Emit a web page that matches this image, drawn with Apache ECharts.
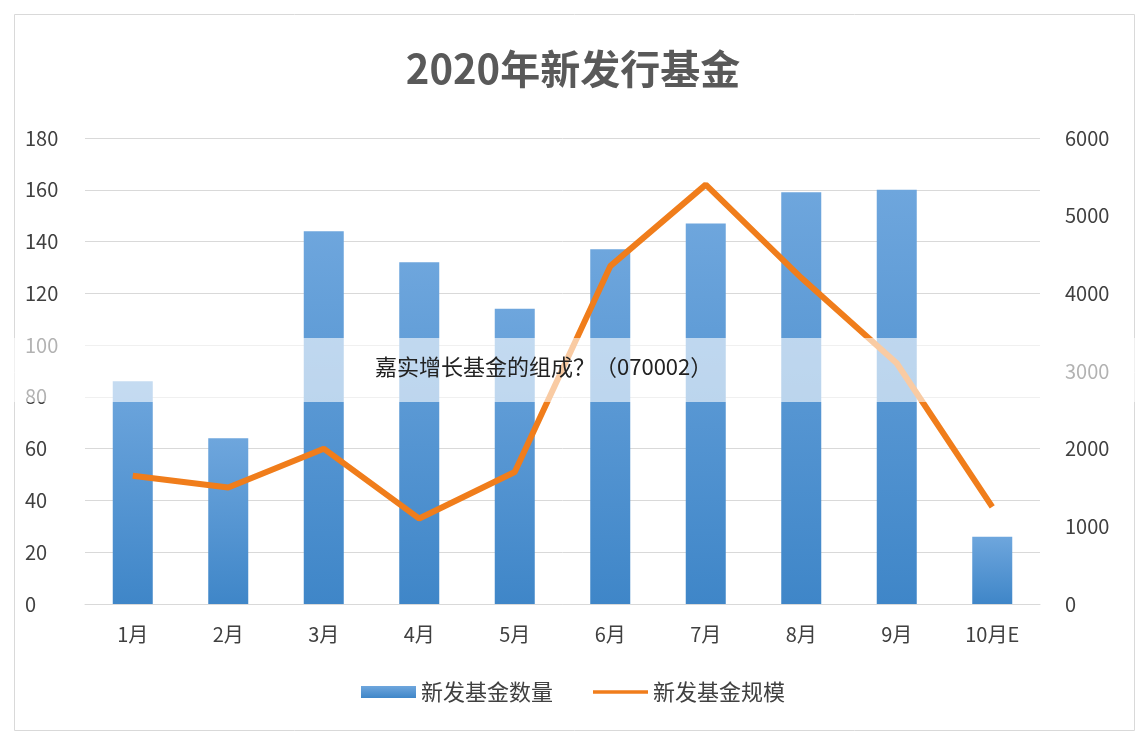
<!DOCTYPE html>
<html><head><meta charset="utf-8">
<script src="https://cdn.jsdelivr.net/npm/echarts@6/dist/echarts.min.js"></script>
<style>html,body{margin:0;background:#fff}#main{width:1146px;height:740px}</style>
</head><body><div id="main"></div>
<script>
var months = ['1月','2月','3月','4月','5月','6月','7月','8月','9月','10月E'];
var fundCount = [86, 64, 144, 132, 114, 137, 147, 159, 160, 26];
var fundScale = [1650, 1500, 2000, 1100, 1700, 4350, 5400, 4200, 3100, 1250];

var myChart = echarts.init(document.getElementById('main'));
var font = 'Noto Sans CJK SC';
option = {
    textStyle: {fontFamily: font},
    title: {
        text: '2020年新发行基金', left: 'center', top: 44,
        textStyle: {fontSize: 40, fontWeight: 'bold', color: '#595959', fontFamily: font}
    },
    legend: {
        bottom: 32, itemGap: 40, itemWidth: 55, itemHeight: 12,
        textStyle: {fontSize: 22, color: '#404040'},
        data: [
            {name: '新发基金数量', icon: 'rect'},
            {name: '新发基金规模', icon: 'path://M0,4 L60,4 L60,8 L0,8 Z'}
        ]
    },
    grid: {left: 85, right: 106, top: 138, bottom: 136},
    xAxis: {
        type: 'category', data: months,
        axisLine: {lineStyle: {color: '#d9d9d9'}}, axisTick: {show: false},
        axisLabel: {fontSize: 20, color: '#404040', margin: 20}
    },
    yAxis: [
        {type: 'value', min: 0, max: 180, interval: 20,
         axisLabel: {fontSize: 20, color: '#404040', margin: 60, align: 'left'},
         splitLine: {lineStyle: {color: '#d9d9d9'}}},
        {type: 'value', min: 0, max: 6000, interval: 1000,
         axisLabel: {fontSize: 20, color: '#404040', margin: 25,
                     formatter: function (v) { return String(v); }},
         splitLine: {show: false}}
    ],
    series: [
        {name: '新发基金数量', type: 'bar', barWidth: 40, data: fundCount,
         itemStyle: {color: new echarts.graphic.LinearGradient(0, 0, 0, 1, [
             {offset: 0, color: '#6ea6dd'}, {offset: 1, color: '#3f86c8'}]),
             shadowColor: 'rgba(230,150,120,0.4)', shadowBlur: 4, shadowOffsetX: -3}},
        {name: '新发基金规模', type: 'line', yAxisIndex: 1, data: fundScale,
         symbol: 'none', lineStyle: {width: 6, color: '#f07d1b'}, itemStyle: {color: '#f07d1b'}}
    ],
    graphic: [
        {type: 'rect', left: 0, top: 338, shape: {width: 1146, height: 64},
         style: {fill: 'rgba(255,255,255,0.6)'}, z: 100},
        {type: 'text', left: 375, top: 356,
         style: {text: '嘉实增长基金的组成？（070002）', fontSize: 22, fill: '#222', fontFamily: font}, z: 101},
        {type: 'rect', left: 12, top: 12, shape: {width: 1120, height: 716},
         style: {fill: 'none', stroke: '#d9d9d9', lineWidth: 1}, z: 0}
    ]
};
myChart.setOption(option);
</script></body></html>
